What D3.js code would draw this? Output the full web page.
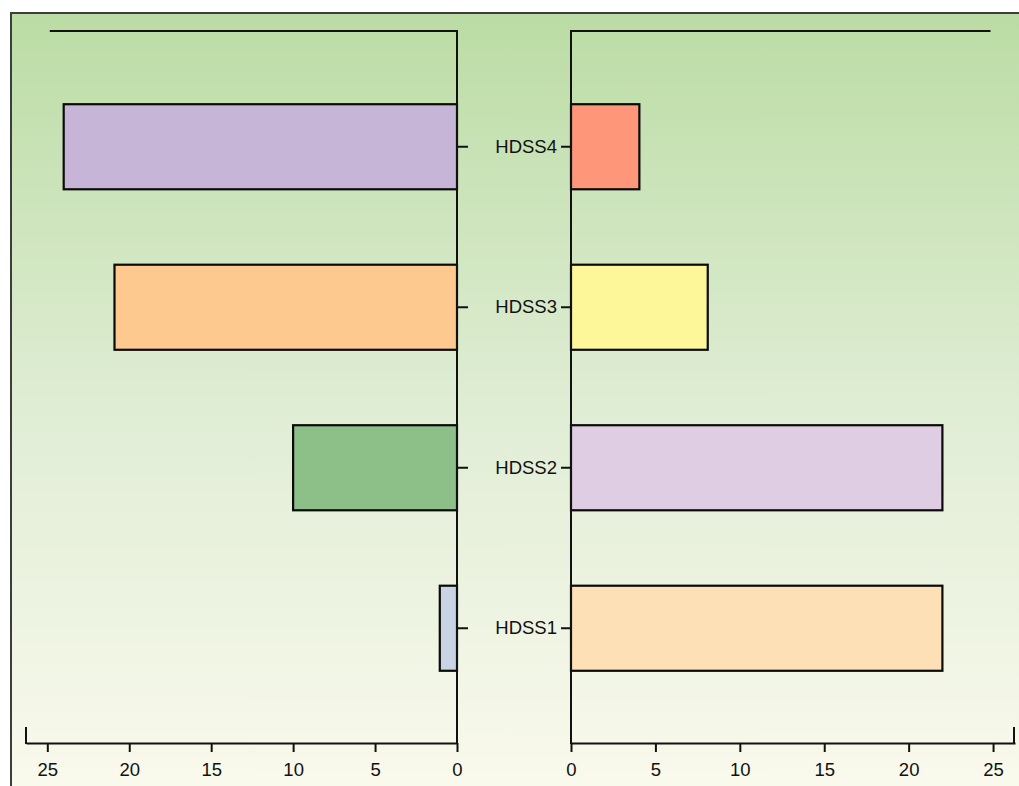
<!DOCTYPE html>
<meta charset="utf-8">
<html>
<head>
    <style>
        body {
            margin: 0;
            background: #fff;
            font-family: 'Liberation Sans', Arial, sans-serif;
        }

        .axis path,
        .axis line {
            fill: none;
            stroke: #111;
            stroke-width: 2;
        }

        .axis text {
            font-size: 18.5px;
            fill: #111;
        }

        .bar {
            stroke: #0a0a0a;
            stroke-width: 2.2;
        }
    </style>
</head>

<body>
    <svg id="chart"></svg>

    <script src="https://cdn.jsdelivr.net/npm/d3@7"></script>
    <script>

        // categories, top to bottom
        var sites = ["HDSS4", "HDSS3", "HDSS2", "HDSS1"];

        // left half (bars grow to the left)
        var leftValues = [24, 20.9, 10, 1.05];
        var leftColors = ["#c6b5d7", "#fec98e", "#8dc089", "#c8d4e4"];

        // right half (bars grow to the right)
        var rightValues = [4.05, 8.1, 22, 22];
        var rightColors = ["#fe9679", "#fef799", "#dfcde4", "#fee0b7"];

        var tickValues = [0, 5, 10, 15, 20, 25];
        var axisMax = 26.3;
        var topLineMax = 24.85;

        var width = 1019, height = 786;

        var svg = d3.select("#chart")
            .attr("width", width)
            .attr("height", height);

        // background gradient
        var grad = svg.append("defs").append("linearGradient")
            .attr("id", "bg")
            .attr("x1", 0).attr("y1", 0)
            .attr("x2", 0).attr("y2", 1);
        grad.append("stop").attr("offset", "0%").attr("stop-color", "#bbdca4");
        grad.append("stop").attr("offset", "50%").attr("stop-color", "#e0edd5");
        grad.append("stop").attr("offset", "100%").attr("stop-color", "#fbfaee");

        svg.append("rect")
            .attr("x", 11)
            .attr("y", 13)
            .attr("width", width + 10)
            .attr("height", height + 10)
            .attr("fill", "url(#bg)")
            .attr("stroke", "#3d3d3d")
            .attr("stroke-width", 2);

        // scales
        var y = d3.scaleBand()
            .domain(sites)
            .range([66.5, 708.5])
            .paddingInner(0.47)
            .paddingOuter(0.235);

        var xL = d3.scaleLinear().domain([0, axisMax]).range([457, 26]);
        var xR = d3.scaleLinear().domain([0, axisMax]).range([571, 1015]);

        var yTop = 31, yBottom = 743;

        // bars
        svg.selectAll(".barL")
            .data(sites)
            .enter().append("rect")
            .attr("class", "bar")
            .attr("x", function (d, i) { return xL(leftValues[i]); })
            .attr("y", function (d) { return y(d); })
            .attr("width", function (d, i) { return xL(0) - xL(leftValues[i]); })
            .attr("height", y.bandwidth())
            .attr("fill", function (d, i) { return leftColors[i]; });

        svg.selectAll(".barR")
            .data(sites)
            .enter().append("rect")
            .attr("class", "bar")
            .attr("x", xR(0))
            .attr("y", function (d) { return y(d); })
            .attr("width", function (d, i) { return xR(rightValues[i]) - xR(0); })
            .attr("height", y.bandwidth())
            .attr("fill", function (d, i) { return rightColors[i]; });

        // bottom axes
        svg.append("g")
            .attr("class", "axis")
            .attr("transform", "translate(0," + yBottom + ")")
            .call(d3.axisBottom(xL).tickValues(tickValues).tickSize(9).tickSizeOuter(0).tickPadding(11));

        svg.append("g")
            .attr("class", "axis")
            .attr("transform", "translate(0," + yBottom + ")")
            .call(d3.axisBottom(xR).tickValues(tickValues).tickSize(9).tickSizeOuter(0).tickPadding(11));

        // upward end ticks
        [xL(axisMax), xR(axisMax) - 1].forEach(function (x) {
            svg.append("line")
                .attr("x1", x).attr("x2", x)
                .attr("y1", yBottom - 16).attr("y2", yBottom + 1)
                .attr("stroke", "#111").attr("stroke-width", 2);
        });

        // vertical axes
        var vL = svg.append("g")
            .attr("class", "axis")
            .attr("transform", "translate(" + xL(0) + ",0)")
            .call(d3.axisRight(y).tickSize(11).tickFormat(""));
        vL.select(".domain").remove();

        var vR = svg.append("g")
            .attr("class", "axis")
            .attr("transform", "translate(" + xR(0) + ",0)")
            .call(d3.axisLeft(y).tickSize(10).tickPadding(4));
        vR.select(".domain").remove();

        [xL(0), xR(0)].forEach(function (x) {
            svg.append("line")
                .attr("x1", x).attr("x2", x)
                .attr("y1", yTop - 1).attr("y2", yBottom + 1)
                .attr("stroke", "#111").attr("stroke-width", 2);
        });

        // top lines
        svg.append("line")
            .attr("x1", xL(topLineMax)).attr("x2", xL(0))
            .attr("y1", yTop).attr("y2", yTop)
            .attr("stroke", "#111").attr("stroke-width", 2);

        svg.append("line")
            .attr("x1", xR(0)).attr("x2", xR(topLineMax))
            .attr("y1", yTop).attr("y2", yTop)
            .attr("stroke", "#111").attr("stroke-width", 2);

    </script>
</body>
</html>
